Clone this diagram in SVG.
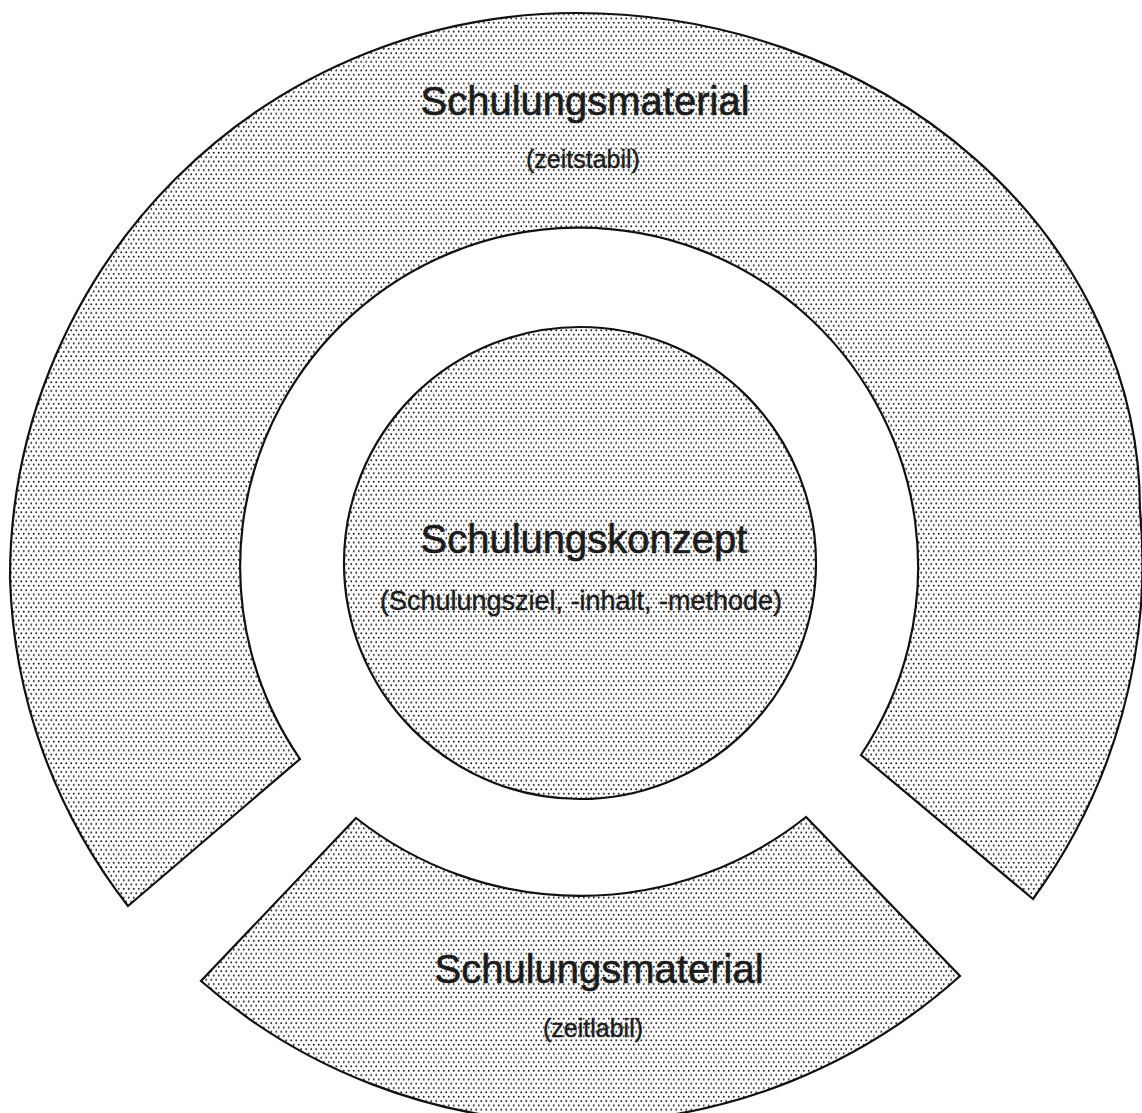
<svg xmlns="http://www.w3.org/2000/svg" width="1142" height="1113" viewBox="0 0 1142 1113">
  <defs>
    <pattern id="stipple" patternUnits="userSpaceOnUse" width="5" height="8.66">
      <rect width="5" height="8.66" fill="#ffffff"/>
      <circle cx="1.25" cy="1.1" r="0.95" fill="#111111"/>
      <circle cx="3.75" cy="5.43" r="0.95" fill="#111111"/>
    </pattern>
  </defs>
  <style>
    .shape { fill: url(#stipple); stroke: #111111; stroke-width: 2.2; stroke-linejoin: miter; }
    .title { font-family: "Liberation Sans", Arial, sans-serif; fill: #1c1c1c; stroke: #1c1c1c; stroke-width: 0.6; text-anchor: middle; }
    .big { font-size: 40px; }
    .small { font-size: 25px; stroke-width: 0.4; }
    .mid { font-size: 27px; stroke-width: 0.4; }
  </style>
  <rect width="1142" height="1113" fill="#ffffff"/>

  <g id="outer-ring">
    <path class="shape" d="M128,906 A560,560 0 0 1 10,578 A566,565 0 0 1 576,13 A564,497 0 0 1 1140,510 A570,570 0 0 1 1033,899 L861,755 A339,339 0 1 0 300,759 Z"/>
    <text class="title big" x="585" y="115">Schulungsmaterial</text>
    <text class="title small" x="583" y="168">(zeitstabil)</text>
  </g>

  <g id="center-circle">
    <circle class="shape" cx="580" cy="563" r="236"/>
    <text class="title big" x="584" y="553">Schulungskonzept</text>
    <text class="title mid" x="581" y="610">(Schulungsziel, -inhalt, -methode)</text>
  </g>

  <g id="bottom-segment">
    <path class="shape" d="M356,818 A362,362 0 0 0 806,817 L960,976 A572,572 0 0 1 201,981 Z"/>
    <text class="title big" x="599" y="983">Schulungsmaterial</text>
    <text class="title small" x="593" y="1037">(zeitlabil)</text>
  </g>

  <g id="connectors"/>
</svg>
